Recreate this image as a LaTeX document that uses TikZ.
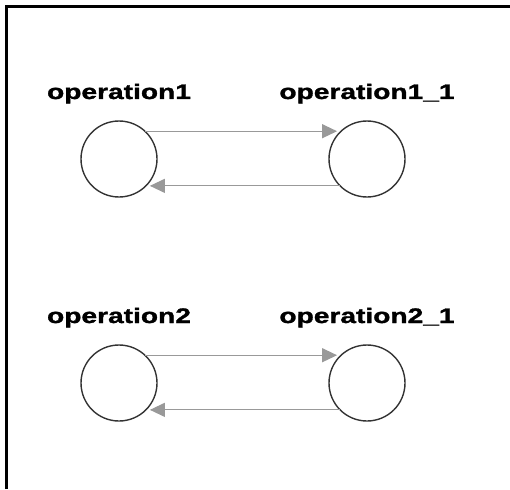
\documentclass[tikz,border=0pt]{standalone}
\usepackage{fontspec}
\newfontfamily\lblfont[FakeStretch=1.34,FakeBold=1.5]{Liberation Sans Bold}
\usetikzlibrary{arrows.meta, positioning}
\definecolor{flowgray}{HTML}{999999}

\begin{document}
\begin{tikzpicture}[x=1pt,y=-1pt,node distance=248pt,on grid,
    op/.style={circle,draw=black!80,line width=1.4pt,minimum size=76pt,inner sep=0pt,outer sep=0pt},
    lbl/.style={font=\lblfont\fontsize{21}{24}\selectfont,anchor=base,inner sep=0pt},
    flow/.style={draw=flowgray,line width=1.2pt,-{Triangle[length=15pt,width=14pt]},shorten >=4pt}]

      \useasboundingbox (0,0) rectangle (510,489);
      \draw[line width=2.4pt] (6.5,489) -- (6.5,6.5) -- (510,6.5);

      \node[op,label={[lbl,label distance=22pt]above:operation1}]   (op1)  at (119,159) {};
      \node[op,label={[lbl,label distance=22pt]above:operation1\_1}] (op1_1) [right=of op1] {};
      \node[op,label={[lbl,label distance=22pt]above:operation2}]   (op2)  [below=224pt of op1] {};
      \node[op,label={[lbl,label distance=22pt]above:operation2\_1}] (op2_1) [right=of op2] {};

      \draw[flow] (op1.47) -- (op1_1.133);
      \draw[flow] (op1_1.-135) -- (op1.-45);
      \draw[flow] (op2.47) -- (op2_1.133);
      \draw[flow] (op2_1.-135) -- (op2.-45);
    \end{tikzpicture}
\end{document}
